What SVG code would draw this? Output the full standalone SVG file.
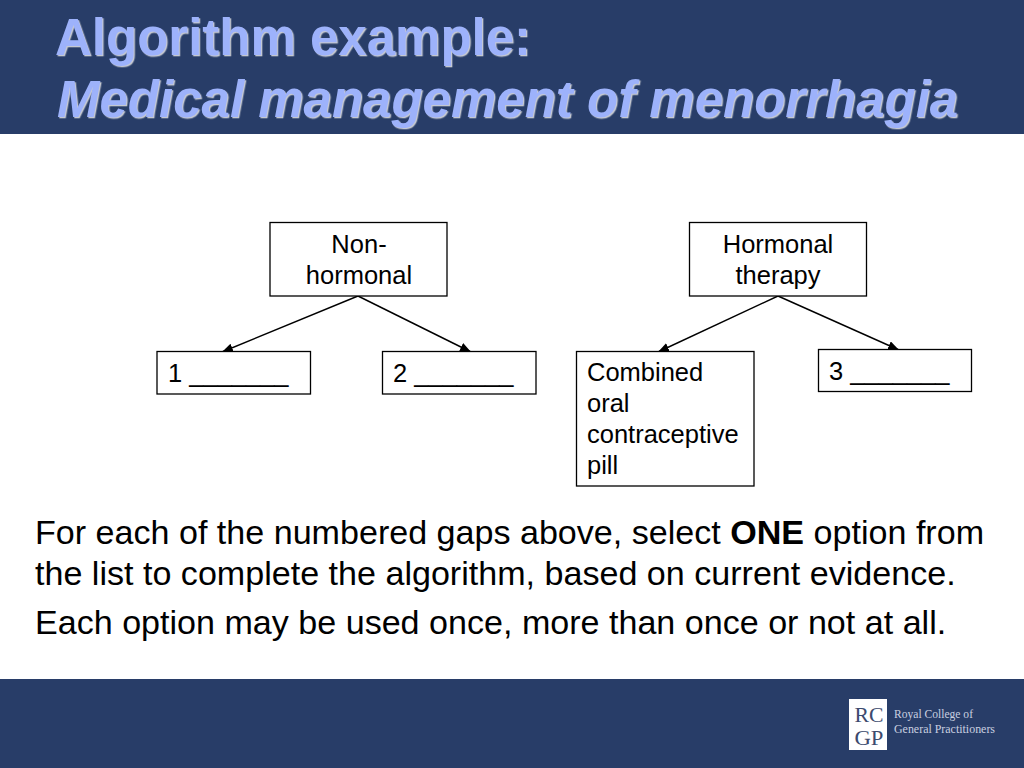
<svg xmlns="http://www.w3.org/2000/svg" width="1024" height="768" viewBox="0 0 1024 768">
<style>
text{font-family:"Liberation Sans",Arial,sans-serif}
.band{fill:#283d68}
.title{font-size:51px;font-weight:bold;fill:#9db2fb;filter:url(#ts)}
.box{fill:#fff;stroke:#000;stroke-width:1.3}
.lab{font-size:25.5px;fill:#000}
.mid{text-anchor:middle}
.body{font-size:34.1px;fill:#000}
.conn{stroke:#000;stroke-width:1.4;fill:none;marker-end:url(#arr)}
.logo{font-family:"Liberation Serif",serif;fill:#c9d0e0;font-size:11.5px}
.rc{font-family:"Liberation Serif",serif;fill:#3c4a6e;font-size:20.500px}
</style>
<defs>
<filter id="ts" x="-5%" y="-20%" width="110%" height="140%">
<feDropShadow dx="1.3" dy="1.3" stdDeviation="0.4" flood-color="#c4c8d0"/>
</filter>
<marker id="arr" markerUnits="userSpaceOnUse" markerWidth="14" markerHeight="12" refX="11" refY="4.500" orient="auto">
<path d="M0,0 L11,4.500 L0,9 Z" fill="#000"/>
</marker>
</defs>
<rect width="1024" height="768" fill="#fff"/>
<rect class="band" x="0" y="0" width="1024" height="134"/>
<rect class="band" x="0" y="679" width="1024" height="89"/>
<g id="title">
<text class="title" x="55" y="55">Algorithm example:</text>
<text class="title" x="57" y="117" font-style="italic">Medical management of menorrhagia</text>
</g>
<g id="connectors">
<line class="conn" x1="358" y1="296" x2="222" y2="352"/>
<line class="conn" x1="358" y1="296" x2="471" y2="352"/>
<line class="conn" x1="778" y1="296" x2="658" y2="352"/>
<line class="conn" x1="778" y1="296" x2="899" y2="350"/>
</g>
<g id="node-nonhormonal">
<rect class="box" x="270" y="222.500" width="177" height="73.500"/>
<text class="lab mid" x="359" y="253">Non-</text>
<text class="lab mid" x="359" y="284">hormonal</text>
</g>
<g id="node-hormonal">
<rect class="box" x="689.500" y="222.500" width="177" height="73.500"/>
<text class="lab mid" x="778" y="253">Hormonal</text>
<text class="lab mid" x="778" y="284">therapy</text>
</g>
<g id="node-1">
<rect class="box" x="157" y="351.500" width="153.500" height="42.500"/>
<text class="lab" x="168" y="382">1 _______</text>
</g>
<g id="node-2">
<rect class="box" x="382.500" y="351.500" width="153.500" height="42.500"/>
<text class="lab" x="393" y="382">2 _______</text>
</g>
<g id="node-coc">
<rect class="box" x="576.500" y="351.500" width="177.500" height="134.500"/>
<text class="lab" x="587" y="381">Combined</text>
<text class="lab" x="587" y="412">oral</text>
<text class="lab" x="587" y="443">contraceptive</text>
<text class="lab" x="587" y="474">pill</text>
</g>
<g id="node-3">
<rect class="box" x="818.500" y="349.500" width="153" height="42"/>
<text class="lab" x="829" y="380">3 _______</text>
</g>
<g id="instructions">
<text class="body" x="35" y="544">For each of the numbered gaps above, select <tspan font-weight="bold">ONE</tspan> option from</text>
<text class="body" x="35" y="585">the list to complete the algorithm, based on current evidence.</text>
<text class="body" x="35" y="634">Each option may be used once, more than once or not at all.</text>
</g>
<g id="logo">
<rect x="849" y="699" width="38" height="51" fill="#fff"/>
<text class="rc" x="869" y="722" text-anchor="middle" textLength="29" lengthAdjust="spacingAndGlyphs">RC</text>
<text class="rc" x="869" y="745" text-anchor="middle" textLength="29" lengthAdjust="spacingAndGlyphs">GP</text>
<text class="logo" x="894" y="718" textLength="79" lengthAdjust="spacingAndGlyphs">Royal College of</text>
<text class="logo" x="894" y="733" textLength="101" lengthAdjust="spacingAndGlyphs">General Practitioners</text>
</g>
</svg>
